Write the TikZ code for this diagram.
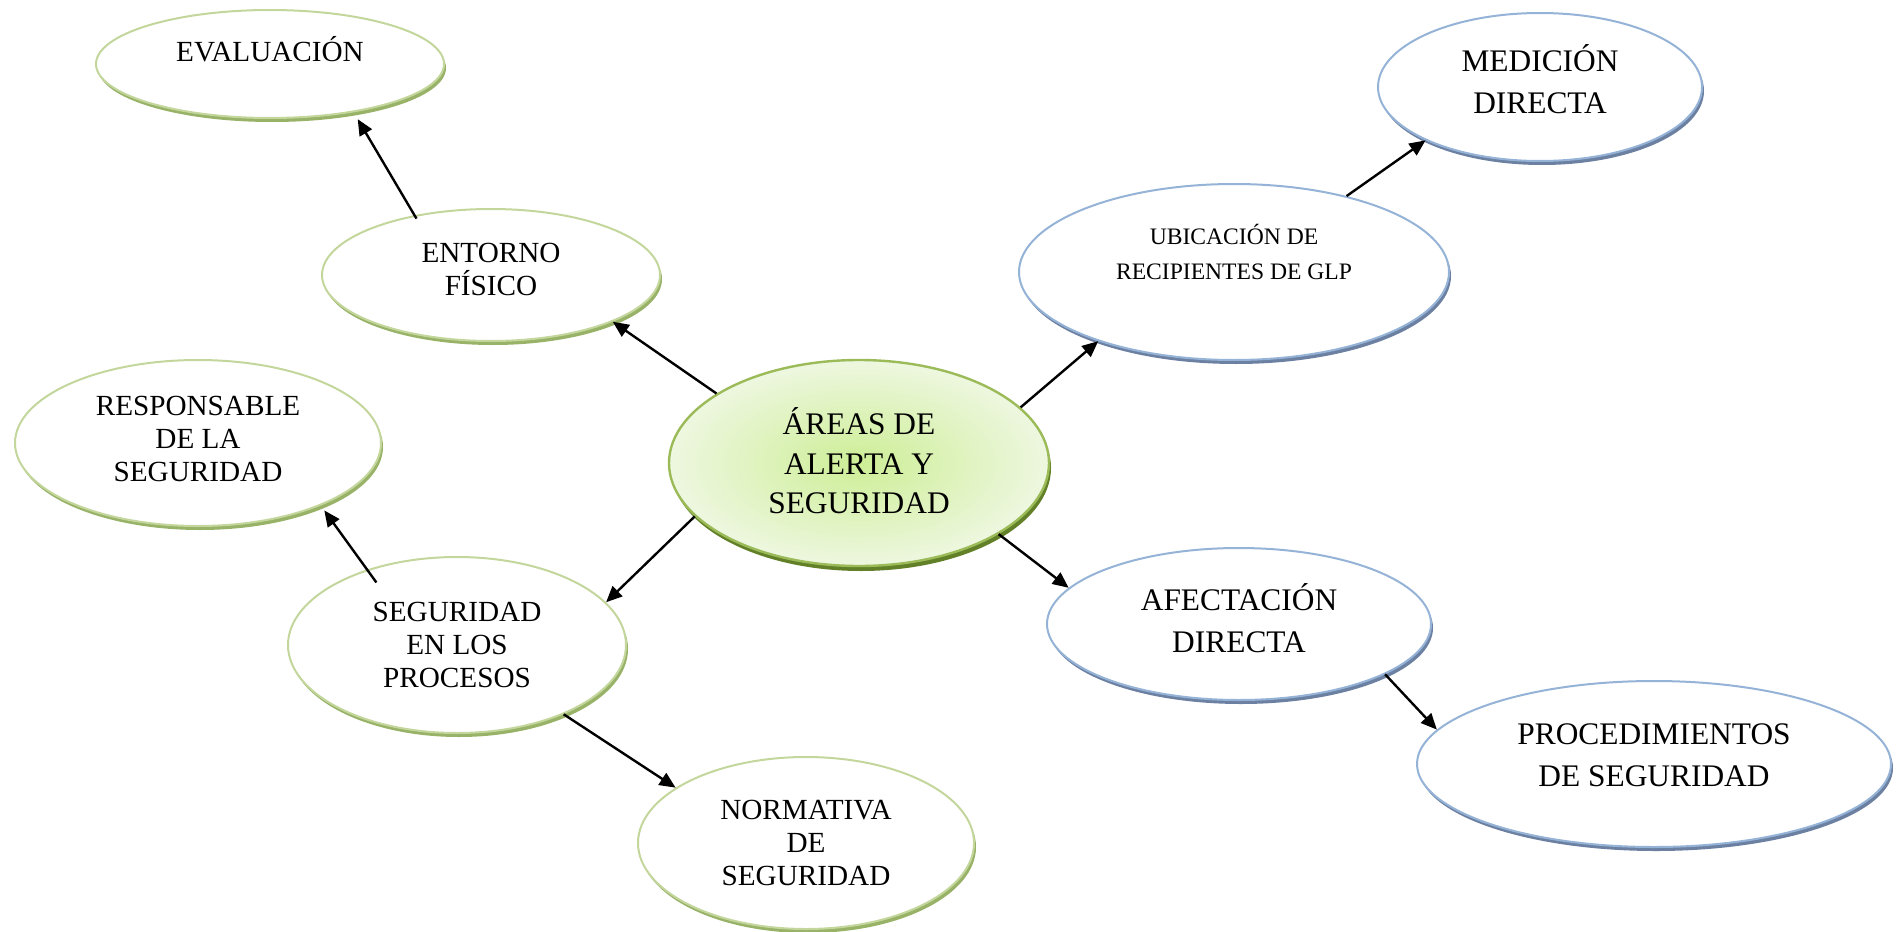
\documentclass[tikz,border=0pt]{standalone}
\usepackage{fontspec}
\setmainfont{Liberation Serif}
\usetikzlibrary{arrows.meta,positioning,shapes.geometric,shadows}
\definecolor{grline}{RGB}{195,214,155}
\definecolor{grshadow}{RGB}{152,178,104}
\definecolor{grcore}{RGB}{155,187,89}
\definecolor{grdark}{RGB}{98,128,40}
\definecolor{grin}{RGB}{205,238,150}
\definecolor{grout}{RGB}{238,247,224}
\definecolor{blline}{RGB}{149,179,215}
\definecolor{blshadow}{RGB}{108,128,162}
\tikzset{every picture/.style={line width=0.5pt}}
\tikzstyle{greenbub}=[ellipse,draw=grline,line width=1pt,fill=white,
  drop shadow={shadow xshift=1pt,shadow yshift=-2pt,fill=grshadow,opacity=1}]
\tikzstyle{bluebub}=[ellipse,draw=blline,line width=1pt,fill=white,
  drop shadow={shadow xshift=1pt,shadow yshift=-2pt,fill=blshadow,opacity=1}]
\tikzstyle{corebub}=[ellipse,draw=grcore,line width=1.2pt,inner color=grin,outer color=grout,
  drop shadow={shadow xshift=1pt,shadow yshift=-2.5pt,fill=grdark,opacity=1}]
\tikzstyle{gtext}=[align=center,font=\fontsize{14.6}{16.5}\selectfont]
\tikzstyle{btext}=[align=center,font=\fontsize{15.7}{21}\selectfont]

\begin{document}
\begin{tikzpicture}
  [x=0.5pt,y=-0.5pt]
\useasboundingbox (0,0) rectangle (1899,931);
% core
\node[corebub,minimum width=190pt,minimum height=103pt,
  label={[align=center,font=\fontsize{15.7}{19.7}\selectfont,yshift=1pt]center:{ÁREAS DE\\ALERTA Y\\SEGURIDAD}}] (areas) at (859,463) {};
% left branch
\node[greenbub,minimum width=174pt,minimum height=54pt,
  label={[gtext,yshift=7.3pt]center:EVALUACIÓN}] (eva) at (270,64) {};
\node[greenbub,minimum width=169pt,minimum height=66pt,
  label={[gtext,yshift=3pt]center:{ENTORNO\\FÍSICO}}] (ent) at (491,275) {};
\node[greenbub,minimum width=183pt,minimum height=83pt,
  label={[gtext,yshift=2pt]center:{RESPONSABLE\\DE LA\\SEGURIDAD}}] (resp) at (198,443) {};
\node[greenbub,minimum width=169pt,minimum height=88pt,
  label={[gtext]center:{SEGURIDAD\\EN LOS\\PROCESOS}}] (proc) at (457,645) {};
\node[greenbub,minimum width=168pt,minimum height=86pt,
  label={[gtext]center:{NORMATIVA\\DE\\SEGURIDAD}}] (norm) at (806,843) {};
% right branch
\node[bluebub,minimum width=215pt,minimum height=88pt,
  label={[align=center,font=\fontsize{11.8}{17.5}\selectfont,yshift=10pt]center:{UBICACIÓN DE\\RECIPIENTES DE GLP}}] (ubi) at (1234,272) {};
\node[bluebub,minimum width=162pt,minimum height=74pt,
  label={[btext,yshift=4pt]center:{MEDICIÓN\\DIRECTA}}] (med) at (1540,87) {};
\node[bluebub,minimum width=192pt,minimum height=76pt,
  label={[btext,yshift=2.7pt]center:{AFECTACIÓN\\DIRECTA}}] (afe) at (1239,624) {};
\node[bluebub,minimum width=237pt,minimum height=83pt,
  label={[btext,yshift=4.2pt]center:{PROCEDIMIENTOS\\DE SEGURIDAD}}] (pro) at (1654,764) {};
\path[-{Triangle[length=8pt,width=7pt]},line width=1.2pt]
(ent.142) edge[shorten >=4pt,shorten <=-2pt] (eva.-30)
(areas.154) edge (ent.-21)
(areas.198) edge (proc.16)
(proc.140) edge[shorten >=3pt,shorten <=-8pt] (resp.-27)
(proc.-33) edge (norm.157)
(areas.19) edge (ubi.207)
(ubi.34) edge (med.205)
(areas.-27) edge (afe.168)
(afe.-19) edge (pro.171);
\end{tikzpicture}
\end{document}
